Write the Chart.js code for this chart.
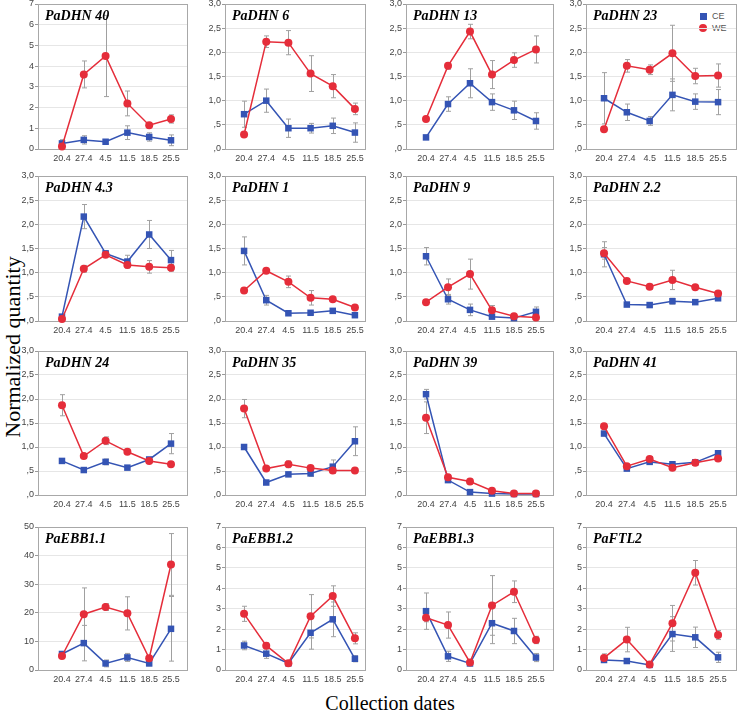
<!DOCTYPE html>
<html>
<head>
<meta charset="utf-8">
<script src="https://cdn.jsdelivr.net/npm/chart.js@4.4.1/dist/chart.umd.min.js"></script>
<style>
  body { margin: 0; background: #fff; }
  #wrap { position: relative; width: 738px; height: 712px; overflow: hidden; }
  #wrap canvas { position: absolute; }
  .axisTitle { position: absolute; font-family: "Liberation Serif", "Times New Roman", serif; color: #000; white-space: nowrap; }
  #ylab { font-size: 22px; left: 13px; top: 347px; transform: translate(-50%, -50%) rotate(-90deg); }
  #xlab { font-size: 20px; left: 390px; top: 703px; transform: translate(-50%, -50%); }
  .leg { position: absolute; font: 9px "Liberation Sans", Arial, sans-serif; color: #555; }
  .mark { position: absolute; }
</style>
</head>
<body>
<div id="wrap">
  <div id="ylab" class="axisTitle">Normalized quantity</div>
  <div id="xlab" class="axisTitle">Collection dates</div>
  <div class="mark" style="left:700px;top:13px;width:7px;height:7px;background:#3454b4"></div>
  <div class="leg" style="left:712px;top:11px">CE</div>
  <div class="mark" style="left:699px;top:24px;width:8px;height:8px;border-radius:50%;background:#e52d3a"></div>
  <div class="leg" style="left:712px;top:23px">WE</div>
</div>
<script>
const genes = ['PaDHN 40', 'PaDHN 6', 'PaDHN 13', 'PaDHN 23',
               'PaDHN 4.3', 'PaDHN 1', 'PaDHN 9', 'PaDHN 2.2',
               'PaDHN 24', 'PaDHN 35', 'PaDHN 39', 'PaDHN 41',
               'PaEBB1.1', 'PaEBB1.2', 'PaEBB1.3', 'PaFTL2'];
const dates = ['20.4', '27.4', '4.5', '11.5', '18.5', '25.5'];
const yMax = [7, 3, 3, 3, 3, 3, 3, 3, 3, 3, 3, 3, 50, 7, 7, 7];

// CE means and error (half length of the bar)
const ceMean = [
  [0.27, 0.44, 0.35, 0.79, 0.58, 0.42],
  [0.72, 1.0, 0.43, 0.43, 0.48, 0.34],
  [0.24, 0.93, 1.36, 0.97, 0.8, 0.58],
  [1.05, 0.76, 0.58, 1.12, 0.98, 0.97],
  [0.09, 2.16, 1.4, 1.23, 1.79, 1.26],
  [1.45, 0.43, 0.16, 0.17, 0.21, 0.12],
  [1.34, 0.45, 0.23, 0.09, 0.06, 0.19],
  [1.38, 0.34, 0.33, 0.41, 0.39, 0.47],
  [0.71, 0.52, 0.69, 0.57, 0.74, 1.07],
  [1.0, 0.26, 0.43, 0.45, 0.59, 1.12],
  [2.1, 0.31, 0.06, 0.03, 0.02, 0.02],
  [1.28, 0.55, 0.69, 0.64, 0.68, 0.87],
  [5.6, 9.4, 2.3, 4.4, 2.3, 14.4],
  [1.2, 0.8, 0.33, 1.82, 2.48, 0.55],
  [2.88, 0.67, 0.32, 2.29, 1.91, 0.61],
  [0.49, 0.44, 0.25, 1.76, 1.6, 0.62]
];
const ceErr = [
  [0.18, 0.2, 0.1, 0.33, 0.2, 0.26],
  [0.27, 0.24, 0.19, 0.1, 0.16, 0.2],
  [0.02, 0.15, 0.3, 0.17, 0.19, 0.17],
  [0.53, 0.17, 0.09, 0.33, 0.16, 0.26],
  [0.02, 0.25, 0.03, 0.13, 0.29, 0.2],
  [0.29, 0.1, 0.03, 0.03, 0.04, 0.03],
  [0.18, 0.1, 0.12, 0.04, 0.03, 0.1],
  [0.26, 0.04, 0.04, 0.06, 0.04, 0.04],
  [0.03, 0.03, 0.06, 0.03, 0.04, 0.21],
  [0.05, 0.03, 0.03, 0.06, 0.14, 0.3],
  [0.1, 0.03, 0.02, 0.01, 0.01, 0.01],
  [0.04, 0.03, 0.04, 0.03, 0.03, 0.05],
  [0.5, 6.2, 1.2, 1.4, 0.8, 11.3],
  [0.21, 0.23, 0.06, 0.8, 0.85, 0.15],
  [0.89, 0.25, 0.05, 1.0, 0.62, 0.2],
  [0.1, 0.06, 0.04, 0.85, 0.5, 0.25]
];

// WE means and error
const weMean = [
  [0.12, 3.6, 4.49, 2.2, 1.15, 1.45],
  [0.3, 2.22, 2.2, 1.56, 1.3, 0.83],
  [0.62, 1.72, 2.43, 1.54, 1.84, 2.06],
  [0.41, 1.72, 1.64, 1.98, 1.51, 1.52],
  [0.04, 1.08, 1.37, 1.16, 1.12, 1.1],
  [0.63, 1.04, 0.81, 0.48, 0.45, 0.28],
  [0.39, 0.7, 0.97, 0.22, 0.1, 0.07],
  [1.4, 0.83, 0.71, 0.85, 0.7, 0.57],
  [1.87, 0.81, 1.13, 0.9, 0.71, 0.64],
  [1.8, 0.55, 0.64, 0.56, 0.51, 0.51],
  [1.61, 0.37, 0.28, 0.09, 0.03, 0.03],
  [1.43, 0.6, 0.75, 0.57, 0.67, 0.76],
  [4.9, 19.5, 22.0, 19.8, 4.1, 36.9],
  [2.75, 1.19, 0.33, 2.63, 3.62, 1.55],
  [2.56, 2.2, 0.37, 3.16, 3.83, 1.47],
  [0.59, 1.49, 0.27, 2.29, 4.76, 1.71]
];
const weErr = [
  [0.05, 0.65, 1.96, 0.6, 0.1, 0.2],
  [0.03, 0.12, 0.25, 0.37, 0.24, 0.12],
  [0.05, 0.07, 0.15, 0.29, 0.15, 0.28],
  [0.05, 0.13, 0.1, 0.58, 0.16, 0.24],
  [0.02, 0.07, 0.04, 0.06, 0.13, 0.07],
  [0.05, 0.04, 0.12, 0.15, 0.04, 0.03],
  [0.04, 0.17, 0.31, 0.1, 0.03, 0.02],
  [0.12, 0.05, 0.05, 0.2, 0.03, 0.05],
  [0.22, 0.04, 0.08, 0.04, 0.05, 0.04],
  [0.19, 0.03, 0.07, 0.04, 0.03, 0.04],
  [0.33, 0.03, 0.05, 0.02, 0.01, 0.01],
  [0.06, 0.03, 0.05, 0.03, 0.03, 0.03],
  [0.4, 9.2, 1.2, 5.8, 0.5, 10.8],
  [0.37, 0.14, 0.05, 1.06, 0.5, 0.27],
  [0.2, 0.64, 0.05, 1.46, 0.53, 0.18],
  [0.2, 0.6, 0.05, 0.87, 0.6, 0.22]
];

const BLUE = '#3454b4';
const RED = '#e52d3a';

// plot-area boxes of the grid (pixels)
const rowsY = [[4, 149], [176, 321], [351, 495], [527, 670]];
const colsX = [[38, 188], [225, 366], [406, 554], [586, 737]];
const colRange = [[-1.1, 5.78], [-0.86, 5.5], [-0.91, 5.82], [-0.79, 5.83]];

const Y_AXIS_W = 34, PAD_TOP = 8, PAD_RIGHT = 2, X_AXIS_H = 20;

// gray frame, error bars (behind markers) and gene name
const panelDeco = {
  id: 'panelDeco',
  beforeDatasetsDraw(chart) {
    const { ctx, chartArea: a, scales } = chart;
    ctx.save();
    ctx.strokeStyle = '#a8a8a8';
    ctx.lineWidth = 1;
    ctx.strokeRect(Math.round(a.left) + 0.5, Math.round(a.top) + 0.5,
      Math.round(a.right - a.left) - 1, Math.round(a.bottom - a.top));
    ctx.strokeStyle = '#a0a0a0';
    chart.data.datasets.forEach(ds => {
      ds.data.forEach((p, i) => {
        const e = ds.err[i];
        const x = Math.round(scales.x.getPixelForValue(p.x)) + 0.5;
        const y1 = scales.y.getPixelForValue(p.y + e);
        const y2 = scales.y.getPixelForValue(Math.max(0, p.y - e));
        ctx.beginPath();
        ctx.moveTo(x, y1); ctx.lineTo(x, y2);
        ctx.moveTo(x - 2.5, y1); ctx.lineTo(x + 2.5, y1);
        ctx.moveTo(x - 2.5, y2); ctx.lineTo(x + 2.5, y2);
        ctx.stroke();
      });
    });
    ctx.restore();
  },
  afterDraw(chart) {
    const { ctx, chartArea: a } = chart;
    ctx.save();
    ctx.fillStyle = '#000';
    ctx.font = 'bold italic 14px "Liberation Serif", "Times New Roman", serif';
    ctx.textBaseline = 'alphabetic';
    ctx.fillText(chart.options.geneName, a.left + 7, a.top + 15.5);
    ctx.restore();
  }
};

function fmtTick(max) {
  return v => {
    if (max === 3) {
      let s = v.toFixed(1).replace('.', ',');
      return s.startsWith('0') ? s.slice(1) : s;
    }
    return String(v);
  };
}

const wrap = document.getElementById('wrap');

genes.forEach((gene, k) => {
  const r = Math.floor(k / 4), c = k % 4;
  const [top, bottom] = rowsY[r];
  const [left, right] = colsX[c];
  const canvas = document.createElement('canvas');
  const w = right - left + Y_AXIS_W + PAD_RIGHT;
  const h = bottom - top + PAD_TOP + X_AXIS_H;
  canvas.width = w; canvas.height = h;
  canvas.style.width = w + 'px'; canvas.style.height = h + 'px';
  canvas.style.left = (left - Y_AXIS_W) + 'px';
  canvas.style.top = (top - PAD_TOP) + 'px';
  wrap.appendChild(canvas);

  const max = yMax[k];
  const step = max === 3 ? 0.5 : (max === 50 ? 10 : 1);

  new Chart(canvas.getContext('2d'), {
    type: 'line',
    data: {
      datasets: [
        {
          label: 'WE',
          data: weMean[k].map((v, i) => ({ x: i, y: v })),
          err: weErr[k],
          borderColor: RED, backgroundColor: RED,
          pointStyle: 'circle', pointRadius: 4, pointBorderWidth: 0,
          borderWidth: 1.5, tension: 0, clip: false
        },
        {
          label: 'CE',
          data: ceMean[k].map((v, i) => ({ x: i, y: v })),
          err: ceErr[k],
          borderColor: BLUE, backgroundColor: BLUE,
          pointStyle: 'rect', pointRadius: 4.6, pointBorderWidth: 0,
          borderWidth: 1.5, tension: 0, clip: false
        }
      ]
    },
    options: {
      geneName: gene,
      responsive: false,
      animation: false,
      devicePixelRatio: 1,
      layout: { autoPadding: false, padding: { top: PAD_TOP, right: PAD_RIGHT, left: 0, bottom: 0 } },
      plugins: { legend: { display: false }, tooltip: { enabled: false } },
      scales: {
        x: {
          type: 'linear',
          min: colRange[c][0], max: colRange[c][1],
          afterBuildTicks: s => { s.ticks = dates.map((d, i) => ({ value: i })); },
          afterFit: s => { s.height = X_AXIS_H; },
          ticks: {
            callback: v => dates[v],
            autoSkip: false, maxRotation: 0, padding: 4,
            color: '#444', font: { family: '"Liberation Sans", Arial, sans-serif', size: 9 }
          },
          grid: { display: false, drawTicks: false },
          border: { display: false }
        },
        y: {
          min: 0, max: max,
          afterFit: s => { s.width = Y_AXIS_W; },
          ticks: {
            stepSize: step, callback: fmtTick(max), padding: 1,
            color: '#444', font: { family: '"Liberation Sans", Arial, sans-serif', size: 9 }
          },
          grid: { color: '#e6e6e6', tickLength: 3, tickColor: '#999' },
          border: { display: false }
        }
      }
    },
    plugins: [panelDeco]
  });
});
</script>
</body>
</html>
